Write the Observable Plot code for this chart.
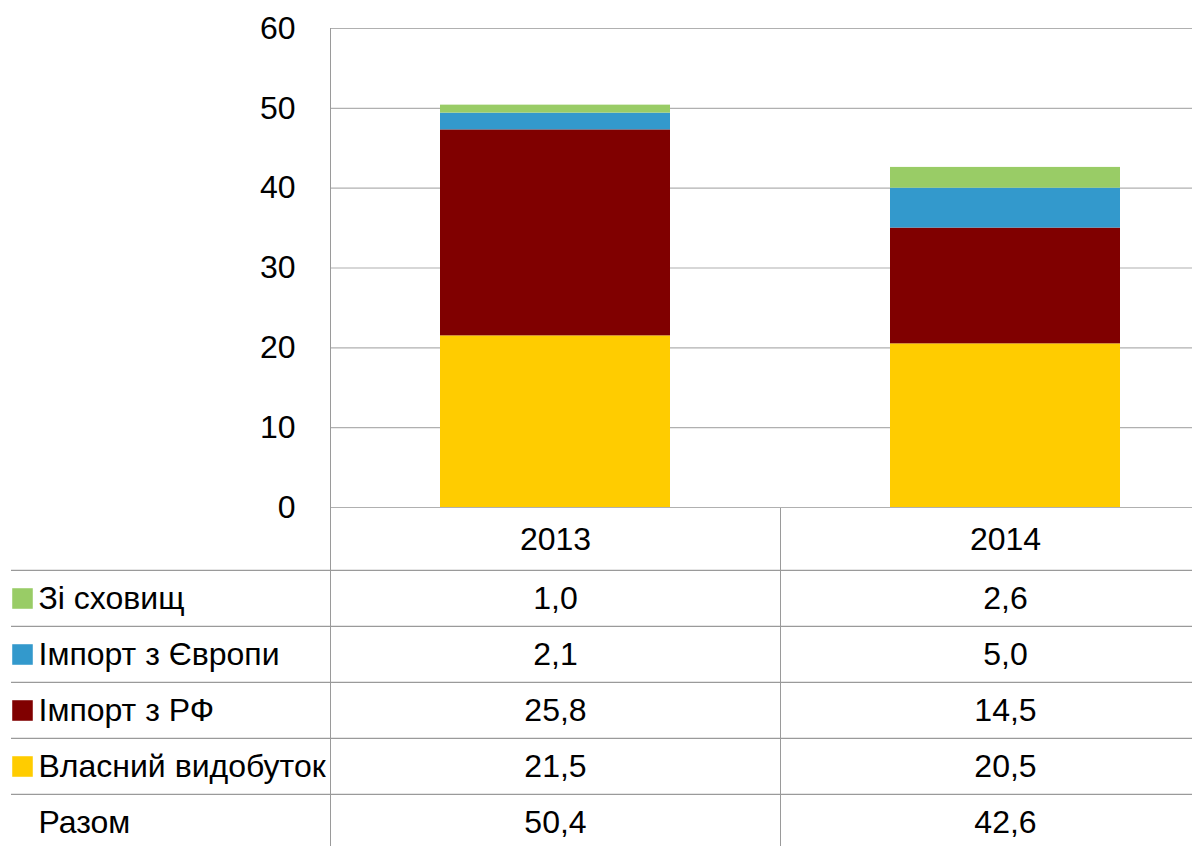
<!DOCTYPE html>
<html>
<head>
<meta charset="utf-8">
<script src="https://cdn.jsdelivr.net/npm/d3@7"></script>
<script src="https://cdn.jsdelivr.net/npm/@observablehq/plot@0.6"></script>
<style>
  html, body { margin: 0; padding: 0; background: #fff; overflow: hidden; }
  #chart svg { display: block; overflow: visible; position: relative; }
  #chart svg:first-child { z-index: 2; }
</style>
</head>
<body>
<div id="chart"></div>
<script>
// ---- data ----
const years = ["2013", "2014"];
// stacked bottom to top
const series = ["Власний видобуток", "Імпорт з РФ", "Імпорт з Європи", "Зі сховищ"];
const seriesColors = ["#FFCC00", "#800000", "#3399CC", "#99CC66"];
const ownProduction = [21.5, 20.5];
const importRF = [25.8, 14.5];
const importEurope = [2.1, 5.0];
const fromStorage = [1.0, 2.6];
const yTicks = [0, 10, 20, 30, 40, 50, 60];
const tableRows = ["Зі сховищ", "Імпорт з Європи", "Імпорт з РФ", "Власний видобуток", "Разом"];
const totalLabel = "Разом";

// ---- build tables ----
const valuesBySeries = {
  "Власний видобуток": ownProduction,
  "Імпорт з РФ": importRF,
  "Імпорт з Європи": importEurope,
  "Зі сховищ": fromStorage
};
const data = [];
series.forEach(s => years.forEach((yr, i) => data.push({year: yr, series: s, value: valuesBySeries[s][i]})));
const cells = [];
tableRows.forEach(r => years.forEach((yr, i) => {
  const v = r === totalLabel
    ? d3.sum(series, s => valuesBySeries[s][i])
    : valuesBySeries[r][i];
  cells.push({year: yr, row: r, value: v});
}));
const fmt = v => v.toFixed(1).replace(".", ",");

const FONT = "'Liberation Sans', Arial, sans-serif";
const FS = 32;
const GRID = "#b0b0b0";
const LINE = "#9a9a9a";

const xOpts = {
  type: "band", domain: years, range: [330, 1230],
  paddingInner: 0.489, paddingOuter: 0.2445, align: 0.5, axis: null
};
const color = {domain: series, range: seriesColors};

// ---- bar chart ----
const chart = Plot.plot({
  width: 1192, height: 508,
  marginTop: 28, marginBottom: 1, marginLeft: 330, marginRight: 0,
  style: {fontFamily: FONT, fontSize: FS + "px", color: "#000", background: "transparent"},
  x: xOpts,
  y: {domain: [0, 60], axis: null},
  color,
  marks: [
    Plot.ruleY(yTicks, {stroke: GRID, strokeWidth: 1.2}),
    Plot.barY(data, {x: "year", y: "value", fill: "series", order: series}),
    Plot.frame({anchor: "left", stroke: LINE}),
    Plot.axisY(yTicks, {tickSize: 0, tickPadding: 35, label: null, fontSize: FS, tickFormat: d => d})
  ]
});

// ---- data table ----
const table = Plot.plot({
  width: 1192, height: 338,
  marginTop: 61, marginBottom: 0, marginLeft: 11, marginRight: 0,
  style: {fontFamily: FONT, fontSize: FS + "px", color: "#000", background: "transparent"},
  x: xOpts,
  y: {type: "band", domain: tableRows, range: [61, 342], padding: 0, axis: null},
  color,
  marks: [
    Plot.ruleY(tableRows, {y: d => d, dy: -28.1, stroke: LINE, strokeWidth: 1.2}),
    Plot.ruleX(years, {x: d => d, dx: -225, insetTop: -61, stroke: LINE}),
    Plot.text(years, {x: d => d, text: d => d, frameAnchor: "top", lineAnchor: "middle", dy: -30, fontSize: FS}),
    Plot.dot(tableRows.filter(r => r !== totalLabel), {
      y: d => d, frameAnchor: "left", dx: 11, symbol: "square", r: 11.6, fill: d => d
    }),
    Plot.text(tableRows, {y: d => d, text: d => d, frameAnchor: "left", dx: 27, textAnchor: "start", fontSize: FS}),
    Plot.text(cells, {x: "year", y: "row", text: d => fmt(d.value), fontSize: FS})
  ]
});

document.getElementById("chart").append(chart, table);
</script>
</body>
</html>
